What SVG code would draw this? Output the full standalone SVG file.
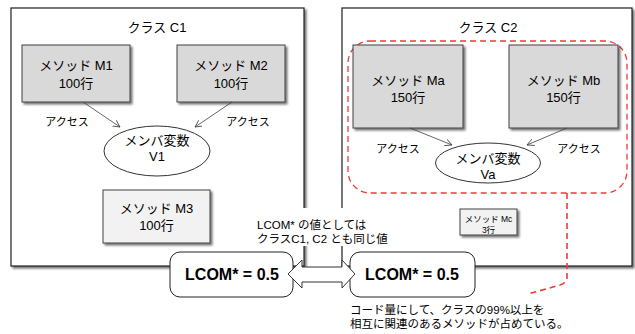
<svg xmlns="http://www.w3.org/2000/svg" width="635" height="334" viewBox="0 0 635 334">
<defs>
<filter id="sh" x="-10%" y="-10%" width="130%" height="130%">
<feDropShadow dx="2" dy="2" stdDeviation="1" flood-color="#000" flood-opacity="0.55"/>
</filter>
<marker id="ah" markerWidth="8" markerHeight="8" refX="7" refY="3.5" orient="auto" markerUnits="userSpaceOnUse">
<path d="M0,0 L7,3.5 L0,7" fill="none" stroke="#404040" stroke-width="0.8"/>
</marker>
</defs>
<style>
text{font-family:"Liberation Sans","Noto Sans CJK JP",sans-serif;fill:#000}
.cls{fill:#fff;stroke:#222;stroke-width:1.2}
.m{fill:#d9d9d9;stroke:#404040;stroke-width:1}
.ml{fill:#f2f2f2;stroke:#404040;stroke-width:1}
.el{fill:#fff;stroke:#333;stroke-width:1}
.t13{font-size:13px;text-anchor:middle}
.t11{font-size:11px;text-anchor:middle}
.t9{font-size:8.5px;text-anchor:middle}
.lc{fill:#fff;stroke:#222;stroke-width:1}
.lt{font-size:16px;font-weight:bold;text-anchor:middle}
.note{font-size:11.5px}
.red{fill:none;stroke:#f03a3a;stroke-dasharray:6 4}
</style>

<g id="classC1">
<rect class="cls" x="11" y="8" width="293" height="258" filter="url(#sh)"/>
<text class="t13" x="157" y="32">クラス C1</text>
</g>
<g id="classC2">
<rect class="cls" x="342" y="8" width="290" height="258" filter="url(#sh)"/>
<text class="t13" x="488" y="32">クラス C2</text>
</g>

<g id="M1">
<rect class="m" x="22" y="45" width="108" height="57" filter="url(#sh)"/>
<text class="t13" x="76" y="70">メソッド M1</text>
<text class="t13" x="76" y="88">100行</text>
</g>
<g id="M2">
<rect class="m" x="177" y="45" width="108" height="57" filter="url(#sh)"/>
<text class="t13" x="231" y="70">メソッド M2</text>
<text class="t13" x="231" y="88">100行</text>
</g>
<g id="M3">
<rect class="ml" x="103" y="190" width="107" height="53" filter="url(#sh)"/>
<text class="t13" x="156.5" y="213">メソッド M3</text>
<text class="t13" x="156.5" y="230">100行</text>
</g>
<g id="V1">
<ellipse class="el" cx="157" cy="151" rx="53" ry="25"/>
<text class="t13" x="157" y="145">メンバ変数</text>
<text class="t13" x="157" y="161">V1</text>
</g>

<g id="groupC2">
<rect class="red" x="348" y="41" width="279" height="152" rx="22" stroke-width="1.3"/>
</g>
<g id="Ma">
<rect class="m" x="353" y="45" width="110" height="83" filter="url(#sh)"/>
<text class="t13" x="408" y="85">メソッド Ma</text>
<text class="t13" x="408" y="102">150行</text>
</g>
<g id="Mb">
<rect class="m" x="509" y="45" width="109" height="83" filter="url(#sh)"/>
<text class="t13" x="563.5" y="85">メソッド Mb</text>
<text class="t13" x="563.5" y="102">150行</text>
</g>
<g id="Va">
<ellipse class="el" cx="488" cy="163" rx="52.5" ry="20"/>
<text class="t13" x="488" y="163">メンバ変数</text>
<text class="t13" x="488" y="179">Va</text>
</g>
<g id="Mc">
<rect class="ml" x="460" y="209" width="57" height="26" filter="url(#sh)"/>
<text class="t9" x="488.5" y="222">メソッド Mc</text>
<text class="t9" x="488.5" y="233">3行</text>
</g>

<g id="connectors" fill="none" stroke="#404040" stroke-width="0.8">
<line x1="83" y1="102" x2="120" y2="127" marker-end="url(#ah)"/>
<line x1="232" y1="102" x2="195" y2="127" marker-end="url(#ah)"/>
<line x1="410" y1="128" x2="452" y2="145" marker-end="url(#ah)"/>
<line x1="567" y1="128" x2="527" y2="145" marker-end="url(#ah)"/>
<path class="red" d="M567,193 V278 Q566,283 560,285 L528,294" stroke-width="1.6"/>
</g>
<g id="accessLabels">
<text class="t11" x="67" y="126">アクセス</text>
<text class="t11" x="248" y="126">アクセス</text>
<text class="t11" x="398" y="153">アクセス</text>
<text class="t11" x="579" y="153">アクセス</text>
</g>

<g id="noteLCOM">
<rect x="253" y="208" width="140" height="38" fill="#fff"/>
<text class="note" x="257" y="229">LCOM* の値としては</text>
<text class="note" x="257" y="243">クラスC1, C2 とも同じ値</text>
</g>

<g id="LCOM1">
<rect class="lc" x="170" y="252" width="123" height="45" rx="10"/>
<text class="lt" x="232" y="280">LCOM* = 0.5</text>
</g>
<g id="LCOM2">
<rect class="lc" x="350" y="252" width="125" height="45" rx="10"/>
<text class="lt" x="412" y="280">LCOM* = 0.5</text>
</g>
<g id="doubleArrow">
<polygon points="288,274 302,260 302,267 342,267 342,260 355,274 342,288 342,282 302,282 302,288" fill="#fff" stroke="#333" stroke-width="1"/>
</g>

<g id="noteBottom">
<text class="note" x="350" y="314">コード量にして、クラスの99%以上を</text>
<text class="note" x="350" y="328">相互に関連のあるメソッドが占めている。</text>
</g>
</svg>
